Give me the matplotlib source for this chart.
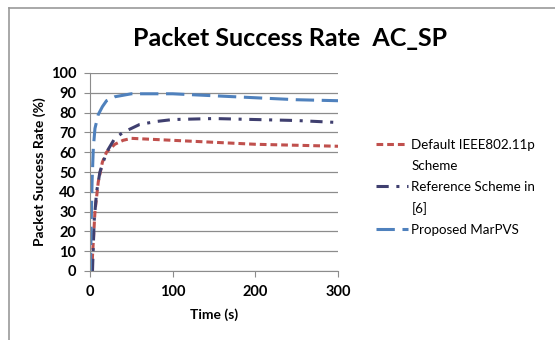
import matplotlib
matplotlib.use("Agg")
import matplotlib.pyplot as plt
from matplotlib.lines import Line2D

plt.rcParams['font.family'] = ['Lato', 'DejaVu Sans']

title = "Packet Success Rate  AC_SP"
xlabel = "Time (s)"
ylabel = "Packet Success Rate (%)"
labels = [["Default IEEE802.11p", "Scheme"], ["Reference Scheme in", "[6]"], ["Proposed MarPVS"]]

t_red = [2, 4, 6, 10, 15, 20, 30, 40, 50, 75, 100, 150, 200, 250, 300]
v_red = [0, 15, 30, 45, 55, 60, 64, 66, 67, 66.5, 66, 65, 64, 63.5, 63]

t_dark = [3, 5, 8, 12, 20, 30, 40, 60, 80, 100, 150, 200, 250, 300]
v_dark = [0, 25, 40, 50, 60, 67, 70, 74, 75.5, 76.5, 77, 76.5, 76, 75]

t_blue = [0.5, 1.5, 2.5, 4, 6, 10, 15, 20, 30, 50, 80, 100, 150, 200, 250, 300]
v_blue = [0, 25, 45, 62, 72, 79, 83, 86, 88, 89.5, 89.5, 89.5, 88.5, 87.5, 86.5, 86]

xticks = [0, 100, 200, 300]
yticks = list(range(0, 101, 10))

fig = plt.figure(figsize=(5.55, 3.4), dpi=100)
ax = fig.add_axes([90/555, 1-271/340, 248/555, 198/340])

l1, = ax.plot(t_red, v_red, color="#C0504D", lw=2.2, dashes=(2.2, 1.3))
l2, = ax.plot(t_dark, v_dark, color="#3F3F6F", lw=2.2, dashes=(4, 2.5, 1, 2.5))
l3, = ax.plot(t_blue, v_blue, color="#4F81BD", lw=2.2, dashes=(6, 2.5))

ax.set_xlim(0, 300)
ax.set_ylim(0, 100)
ax.set_xticks(xticks)
ax.set_yticks(yticks)
ax.grid(axis='y', color="#8C8C8C", lw=0.9)
ax.set_axisbelow(True)
for s in ['top', 'right']:
    ax.spines[s].set_visible(False)
for s in ['left', 'bottom']:
    ax.spines[s].set_color("#8C8C8C")
ax.tick_params(axis='both', colors="#8C8C8C", labelcolor="black", length=4, labelsize=10.5)
ax.tick_params(axis='y', pad=6)
ax.tick_params(axis='x', pad=6)
for lab in ax.get_xticklabels() + ax.get_yticklabels():
    lab.set_fontweight('bold')

ax.set_xlabel(xlabel, fontsize=10, fontweight='bold', labelpad=7)
ax.set_ylabel(ylabel, fontsize=10, fontweight='bold', labelpad=3)

fig.text(290/555, 1-38/340, title, ha='center', va='center', fontsize=18, fontweight='bold')

blank = Line2D([], [], color='none')
handles, texts = [], []
for h, lab in zip([l1, l2, l3], labels):
    for i, line in enumerate(lab):
        handles.append(h if i == 0 else blank)
        texts.append(line)

leg = fig.legend(handles, texts, loc='upper left', bbox_to_anchor=(364/555, 1-127/340), frameon=False,
                 fontsize=9.6, handlelength=2.4, handletextpad=0.25, labelspacing=0.67)

fig.add_artist(Line2D([9/555, 9/555], [0, 1-8/340], color="#999999", lw=1.2, transform=fig.transFigure))
fig.add_artist(Line2D([9/555, 1], [1-8/340, 1-8/340], color="#999999", lw=1.2, transform=fig.transFigure))

fig.savefig("out.png", dpi=100)
